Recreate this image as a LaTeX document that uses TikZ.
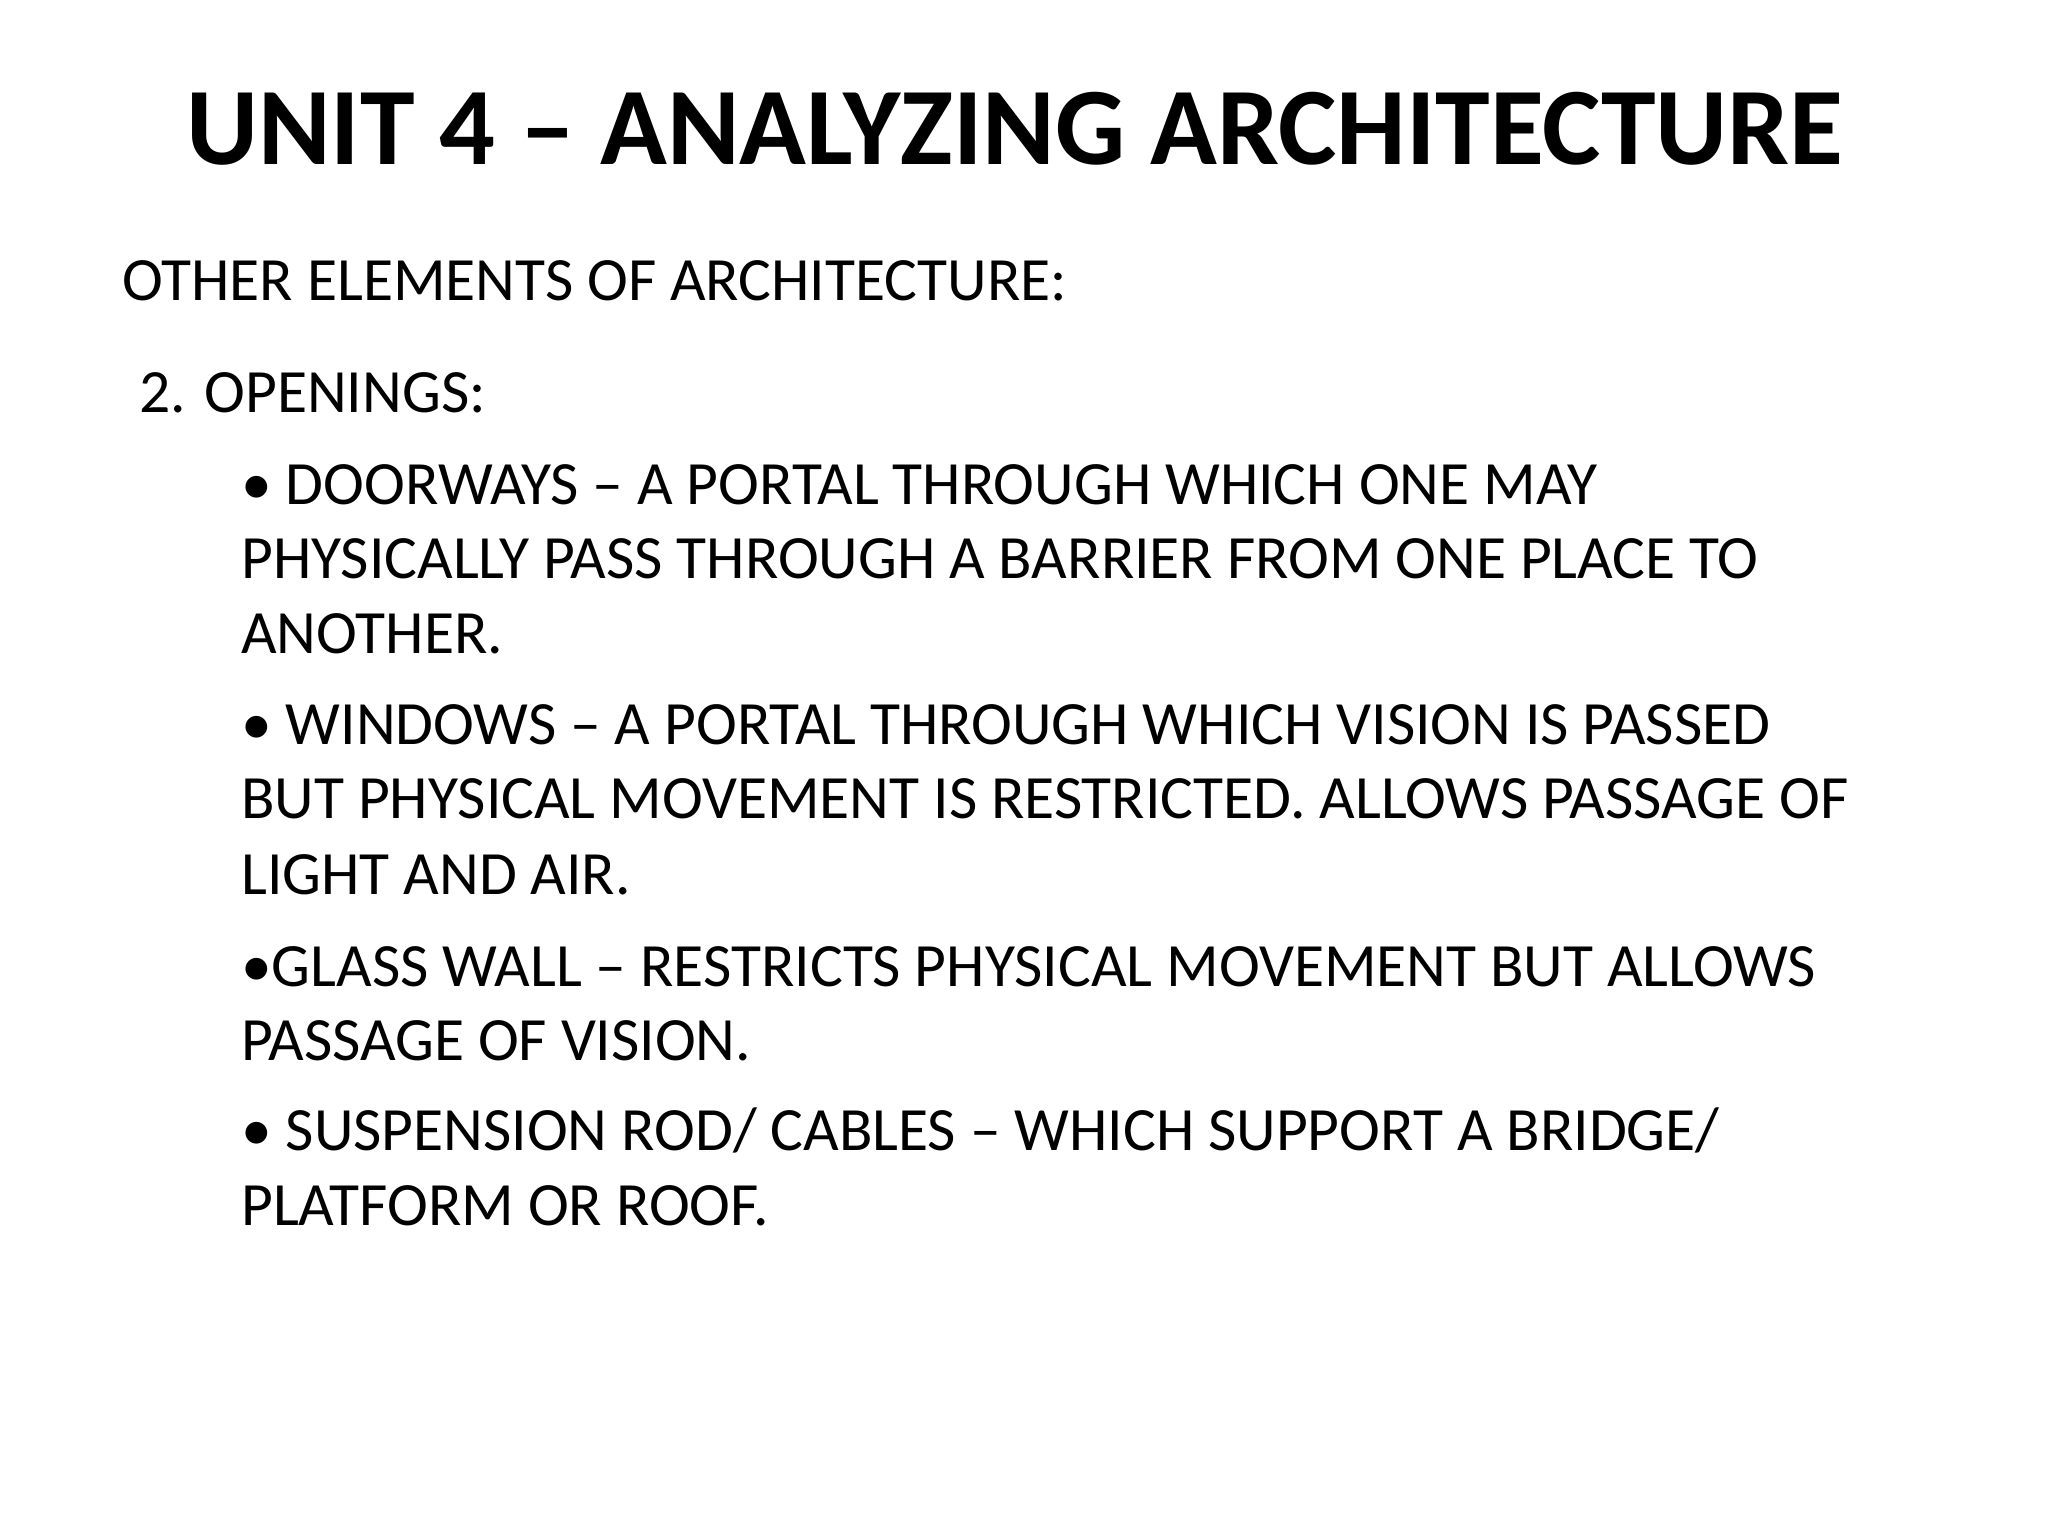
\documentclass[tikz,border=0pt]{standalone}
\usepackage{fontspec}
\setmainfont{Carlito}
\begin{document}
\begin{tikzpicture}[x=0.01cm,y=-0.01cm,
  ln/.style={anchor=base west,inner sep=0pt,font=\fontsize{13.4}{16}\selectfont}]
\useasboundingbox (0,0) rectangle (1568,1176);
\node[anchor=base,inner sep=0pt,font=\fontsize{24}{28}\selectfont\bfseries] (title) at (777,126) {UNIT 4 – ANALYZING ARCHITECTURE};
\node[ln] (h1) at (93,230) {OTHER ELEMENTS OF ARCHITECTURE:};
\node[ln] (h2) at (106,316) {2. OPENINGS:};
\node[ln] (a1) at (184,386) {• DOORWAYS – A PORTAL THROUGH WHICH ONE MAY};
\node[ln] (a2) at (184,443) {PHYSICALLY PASS THROUGH A BARRIER FROM ONE PLACE TO};
\node[ln] (a3) at (184,500) {ANOTHER.};
\node[ln] (b1) at (184,570) {• WINDOWS – A PORTAL THROUGH WHICH VISION IS PASSED};
\node[ln] (b2) at (184,627) {BUT PHYSICAL MOVEMENT IS RESTRICTED. ALLOWS PASSAGE OF};
\node[ln] (b3) at (184,685) {LIGHT AND AIR.};
\node[ln] (c1) at (184,755) {•GLASS WALL – RESTRICTS PHYSICAL MOVEMENT BUT ALLOWS};
\node[ln] (c2) at (184,812) {PASSAGE OF VISION.};
\node[ln] (d1) at (184,881) {• SUSPENSION ROD/ CABLES – WHICH SUPPORT A BRIDGE/};
\node[ln] (d2) at (184,938) {PLATFORM OR ROOF.};
\end{tikzpicture}
\end{document}
